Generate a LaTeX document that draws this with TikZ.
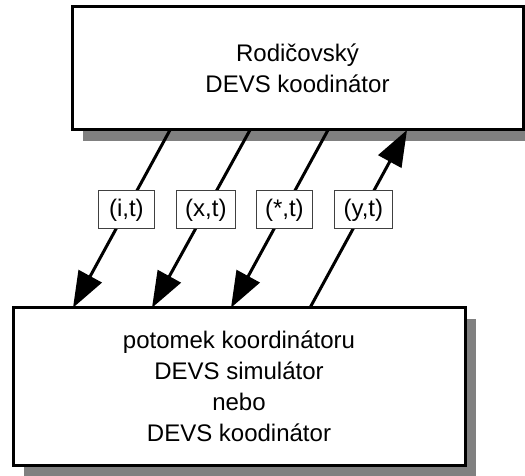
\documentclass[tikz,border=0pt]{standalone}
\usepackage{fontspec}
\setmainfont{Liberation Sans}
\usetikzlibrary{arrows.meta,calc}

\tikzset{
  box/.style={draw=black, line width=3pt, fill=white, outer sep=0pt,
    align=center, font=\fontsize{24}{31}\selectfont},
  shadowfill/.style={fill=black!50},
  msg/.style={draw=black!75, line width=1pt, fill=white, inner xsep=9pt,
    minimum width=56pt, minimum height=38pt, font=\fontsize{24}{29}\selectfont},
  link/.style={line width=3pt, -{Triangle[length=36pt, width=26pt]}},
}

\begin{document}
\begin{tikzpicture}[x=1pt, y=-1pt]
  \useasboundingbox (0,0) rectangle (525,476);
  \clip (0,0) rectangle (525,476);

  % drop shadows
  \fill[shadowfill] (83,18) rectangle (534,141);
  \fill[shadowfill] (24,319) rectangle (476,476);

  % parent coordinator and child component
  \node[box, minimum width=451pt, minimum height=123pt] (parent) at (297.5,68.5)
    {Rodičovský\\DEVS koodinátor};
  \node[box, minimum width=452pt, minimum height=157.5pt] (child) at (239,386.5)
    {potomek koordinátoru\\DEVS simulátor\\nebo\\DEVS koodinátor};

  % message ports on the box borders
  \coordinate (p1) at ($(parent.south west)+(98,0)$);
  \coordinate (p2) at ($(parent.south west)+(178,0)$);
  \coordinate (p3) at ($(parent.south west)+(256,0)$);
  \coordinate (p4) at ($(parent.south west)+(335,0)$);
  \coordinate (c1) at ($(child.north west)+(60,0)$);
  \coordinate (c2) at ($(child.north west)+(139,0)$);
  \coordinate (c3) at ($(child.north west)+(218,0)$);
  \coordinate (c4) at ($(child.north west)+(297,0)$);

  % messages
  \draw[link] (p1) -- node[msg, pos=0.45] (m1) {(i,t)} (c1);
  \draw[link] (p2) -- node[msg, pos=0.45] (m2) {(x,t)} (c2);
  \draw[link] (p3) -- node[msg, pos=0.45] (m3) {(*,t)} (c3);
  \draw[link] (c4) -- node[msg, pos=0.55] (m4) {(y,t)} (p4);
\end{tikzpicture}
\end{document}
